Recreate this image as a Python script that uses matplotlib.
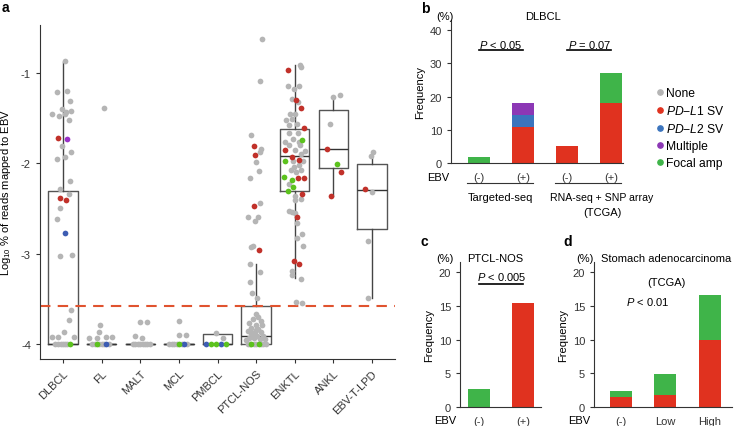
import numpy as np
import matplotlib
matplotlib.use('Agg')
import matplotlib.pyplot as plt
from matplotlib.lines import Line2D

plt.rcParams['font.family'] = ['Liberation Sans', 'DejaVu Sans']
plt.rcParams['mathtext.fontset'] = 'custom'
plt.rcParams['mathtext.rm'] = 'Liberation Sans'
plt.rcParams['mathtext.it'] = 'Liberation Sans:italic'
plt.rcParams['mathtext.bf'] = 'Liberation Sans:bold'
plt.rcParams['axes.edgecolor'] = '#333333'
plt.rcParams['xtick.color'] = '#333333'
plt.rcParams['ytick.color'] = '#333333'

W, H = 737, 427

# ---------------- panel a data ----------------
categories = ['DLBCL', 'FL', 'MALT', 'MCL', 'PMBCL', 'PTCL-NOS', 'ENKTL', 'ANKL', 'EBV-T-LPD']
box_q1 = [-4, -4, -4, -4, -4, -4, -2.305, -2.05, -2.725]
box_med = [-4, -4, -4, -4, -4, -3.916, -1.92, -1.84, -2.30]
box_q3 = [-2.31, -4, -4, -4, -3.89, -3.585, -1.62, -1.41, -2.01]
box_lo = [-4, -4, -4, -4, -4, -4, -3.27, -2.36, -3.49]
box_hi = [-0.88, -4, -4, -4, -3.89, -3.12, -0.91, -1.27, -1.90]
threshold = -3.585

# (jitter offset, log10 value, status) ; n=None r=PD-L1 SV b=PD-L2 SV p=Multiple g=Focal amp
dlbcl_pts = [(0.06, -0.87, 'n'), (-0.17, -1.21, 'n'), (0.10, -1.20, 'n'), (0.18, -1.31, 'n'),
             (-0.03, -1.40, 'n'), (0.07, -1.43, 'n'), (0.21, -1.42, 'n'), (-0.28, -1.45, 'n'),
             (-0.10, -1.48, 'n'), (0.05, -1.45, 'n'), (0.16, -1.52, 'n'), (-0.13, -1.72, 'r'),
             (0.09, -1.73, 'p'), (-0.04, -1.81, 'n'), (0.20, -1.87, 'n'), (0.05, -1.93, 'n'),
             (-0.16, -1.95, 'n'), (0.18, -2.20, 'n'), (-0.08, -2.28, 'n'), (0.16, -2.34, 'n'),
             (-0.07, -2.38, 'r'), (0.08, -2.41, 'r'), (-0.09, -2.49, 'n'), (-0.15, -2.62, 'n'),
             (0.05, -2.77, 'b'), (-0.07, -3.03, 'n'), (0.24, -3.02, 'n'), (0.20, -3.62, 'n'),
             (0.16, -3.73, 'n'), (0.02, -3.87, 'n'), (-0.28, -3.92, 'n'), (-0.13, -3.92, 'n'),
             (0.28, -3.92, 'n'), (-0.20, -4, 'n'), (-0.13, -4, 'n'), (-0.06, -4, 'n'),
             (0.0, -4, 'n'), (0.06, -4, 'n'), (0.11, -4, 'n'), (0.18, -4, 'g')]
fl_pts = [(0.06, -1.39, 'n'), (-0.05, -3.79, 'n'), (-0.06, -3.87, 'n'), (-0.33, -3.93, 'n'),
          (-0.13, -3.93, 'n'), (0.12, -3.92, 'n'), (0.26, -3.92, 'n'), (-0.25, -4, 'n'),
          (-0.18, -4, 'n'), (-0.07, -4, 'n'), (0.0, -4, 'n'), (0.05, -4, 'n'), (0.20, -4, 'n'),
          (-0.13, -4, 'g'), (0.12, -4, 'b')]
malt_pts = [(0.0, -3.76, 'n'), (0.17, -3.76, 'n'), (-0.15, -3.91, 'n'), (0.05, -3.93, 'n'),
            (-0.20, -4, 'n'), (-0.13, -4, 'n'), (-0.06, -4, 'n'), (0.0, -4, 'n'), (0.06, -4, 'n'),
            (0.12, -4, 'n'), (0.18, -4, 'n'), (0.24, -4, 'n')]
mcl_pts = [(0.0, -3.75, 'n'), (-0.01, -3.90, 'n'), (0.18, -3.90, 'n'), (-0.26, -4, 'n'),
           (-0.19, -4, 'n'), (-0.12, -4, 'n'), (-0.06, -4, 'n'), (0.07, -4, 'n'), (0.22, -4, 'n'),
           (0.0, -4, 'g'), (0.14, -4, 'b')]
pmbcl_pts = [(-0.05, -3.88, 'n'), (0.15, -3.93, 'n'), (-0.31, -4, 'b'), (-0.17, -4, 'g'),
             (-0.04, -4, 'g'), (0.10, -4, 'b'), (0.23, -4, 'g')]
ptcl_pts = [(0.15, -0.63, 'n'), (0.10, -1.09, 'n'), (-0.12, -1.69, 'n'), (-0.05, -1.81, 'r'),
            (0.12, -1.84, 'n'), (-0.02, -1.91, 'r'), (0.09, -1.88, 'n'), (0.0, -1.99, 'n'),
            (0.08, -2.09, 'n'), (-0.16, -2.16, 'n'), (-0.05, -2.47, 'r'), (0.10, -2.44, 'n'),
            (-0.20, -2.59, 'n'), (0.04, -2.60, 'n'), (-0.03, -2.64, 'n'), (-0.14, -2.93, 'n'),
            (-0.08, -2.92, 'n'), (0.08, -2.96, 'r'), (-0.17, -3.12, 'n'), (0.10, -3.20, 'n'),
            (-0.15, -3.31, 'n'), (-0.10, -3.44, 'n'), (0.03, -3.49, 'n'), (0.01, -3.67, 'n'),
            (0.06, -3.70, 'n'), (-0.07, -3.72, 'n'), (0.12, -3.74, 'n'), (-0.18, -3.77, 'n'),
            (-0.01, -3.79, 'n'), (0.16, -3.79, 'n'), (-0.14, -3.82, 'n'), (0.06, -3.83, 'n'),
            (-0.22, -3.86, 'n'), (-0.03, -3.87, 'n'), (0.14, -3.87, 'n'), (-0.10, -3.90, 'n'),
            (0.03, -3.91, 'n'), (0.19, -3.91, 'n'), (-0.18, -3.93, 'n'), (-0.05, -3.93, 'n'),
            (0.09, -3.95, 'n'), (-0.25, -3.96, 'n'), (0.22, -3.94, 'n'), (0.0, -3.85, 'n'),
            (-0.12, -3.88, 'n'), (-0.22, -4, 'n'), (-0.16, -4, 'n'), (-0.05, -4, 'n'),
            (0.0, -4, 'n'), (0.12, -4, 'n'), (0.19, -4, 'n'), (0.25, -4, 'n'),
            (-0.12, -4, 'g'), (0.07, -4, 'g')]
enktl_pts = [(-0.17, -0.97, 'r'), (0.03, -1.30, 'r'), (0.17, -1.39, 'r'), (0.23, -1.61, 'r'),
             (-0.24, -1.85, 'r'), (-0.08, -1.93, 'r'), (0.10, -1.96, 'r'), (0.08, -2.16, 'r'),
             (0.25, -2.16, 'r'), (0.20, -2.34, 'r'), (0.06, -2.59, 'r'), (-0.02, -3.08, 'r'),
             (0.10, -3.11, 'r'), (0.20, -1.74, 'g'), (-0.24, -1.98, 'g'), (-0.27, -2.15, 'g'),
             (-0.08, -2.19, 'g'), (-0.04, -2.26, 'g'), (-0.18, -2.31, 'g'),
             (0.13, -0.91, 'n'), (0.17, -0.94, 'n'), (-0.18, -1.14, 'n'), (0.10, -1.15, 'n'),
             (-0.02, -1.18, 'n'), (-0.07, -1.29, 'n'), (0.08, -1.32, 'n'), (-0.12, -1.45, 'n'),
             (0.02, -1.45, 'n'), (-0.22, -1.52, 'n'), (-0.06, -1.51, 'n'), (-0.14, -1.58, 'n'),
             (0.05, -1.56, 'n'), (-0.15, -1.67, 'n'), (0.08, -1.66, 'n'), (-0.26, -1.77, 'n'),
             (-0.04, -1.73, 'n'), (0.10, -1.77, 'n'), (-0.16, -1.80, 'n'), (0.13, -1.80, 'n'),
             (0.0, -1.85, 'n'), (0.26, -1.86, 'n'), (0.17, -1.90, 'n'), (-0.05, -1.97, 'n'),
             (0.22, -1.98, 'n'), (-0.02, -2.04, 'n'), (-0.10, -2.08, 'n'), (0.04, -2.10, 'n'),
             (0.16, -2.07, 'n'), (0.12, -2.02, 'n'), (-0.15, -2.23, 'n'), (0.02, -2.36, 'n'),
             (0.17, -2.39, 'n'), (0.0, -2.41, 'n'), (-0.16, -2.53, 'n'), (-0.07, -2.54, 'n'),
             (0.02, -2.55, 'n'), (0.06, -2.66, 'n'), (0.20, -2.78, 'n'), (0.06, -2.83, 'n'),
             (0.21, -2.92, 'n'), (-0.08, -3.19, 'n'), (-0.06, -3.24, 'n'), (0.16, -3.28, 'n'),
             (0.04, -3.53, 'n'), (0.19, -3.55, 'n')]
ankl_pts = [(0.0, -1.27, 'n'), (0.18, -1.24, 'n'), (-0.08, -1.56, 'n'), (-0.17, -1.84, 'r'),
            (0.10, -2.01, 'g'), (0.20, -2.10, 'r'), (-0.06, -2.36, 'r')]
ebvt_pts = [(-0.03, -1.92, 'n'), (0.02, -1.88, 'n'), (-0.17, -2.28, 'r'), (0.0, -2.32, 'n'),
            (-0.09, -2.86, 'n'), (-0.09, -3.49, 'n')]
all_pts = [dlbcl_pts, fl_pts, malt_pts, mcl_pts, pmbcl_pts, ptcl_pts, enktl_pts, ankl_pts, ebvt_pts]

point_colors = {'n': '#b5b5b5', 'r': '#c1312a', 'b': '#3d5db3', 'p': '#9a32c8', 'g': '#5cc21e'}
bar_red, bar_blue, bar_purple, bar_green = '#e0321f', '#3b74bd', '#8c37b5', '#3fb449'
legend_labels = ['None', r'$\mathit{PD}$−$\mathit{L1}$ SV', r'$\mathit{PD}$−$\mathit{L2}$ SV',
                 'Multiple', 'Focal amp']
legend_colors = ['#b5b5b5', bar_red, bar_blue, bar_purple, bar_green]

# ---------------- panel b data ----------------
b_ebv = ['(-)', '(+)', '(-)', '(+)']
b_pdl1 = [0, 10.9, 5.3, 18.0]
b_pdl2 = [0, 3.6, 0, 0]
b_multi = [0, 3.6, 0, 0]
b_focal = [2.0, 0, 0, 9.0]

# ---------------- panel c data ----------------
c_ebv = ['(-)', '(+)']
c_pdl1 = [0, 15.43]
c_focal = [2.63, 0]

# ---------------- panel d data ----------------
d_ebv = ['(-)', 'Low', 'High']
d_pdl1 = [1.40, 1.79, 9.93]
d_focal = [0.89, 3.08, 6.65]


def rect(l, t, r, b):
    return [l / W, 1 - b / H, (r - l) / W, (b - t) / H]


def fx(x):
    return x / W


def fy(y):
    return 1 - y / H


fs = 8
fig = plt.figure(figsize=(W / 100, H / 100), dpi=100)

# ================= panel a =================
ax = fig.add_axes(rect(40, 26, 395, 360))
stats = []
for i in range(len(categories)):
    stats.append(dict(q1=box_q1[i], med=box_med[i], q3=box_q3[i],
                      whislo=box_lo[i], whishi=box_hi[i], fliers=[]))
ax.bxp(stats, positions=np.arange(1, 10), widths=0.76, showcaps=False, showfliers=False,
       boxprops=dict(color='#555555', lw=1.0),
       medianprops=dict(color='#333333', lw=1.0),
       whiskerprops=dict(color='#444444', lw=1.0))
for i, pts in enumerate(all_pts):
    for code in ['n', 'r', 'b', 'p', 'g']:
        sel = [(o, v) for o, v, c in pts if c == code]
        if sel:
            ox, vy = zip(*sel)
            ax.scatter(np.array(ox) + i + 1, vy, s=17, color=point_colors[code], lw=0, zorder=3)
ax.axhline(threshold, color='#e0532f', lw=1.5, ls=(0, (5, 3.5)), zorder=2)
ax.set_xlim(0.4, 9.6)
ax.set_ylim(-4.166, -0.47)
ax.set_yticks([-1, -2, -3, -4])
ax.set_yticklabels(['-1', '-2', '-3', '-4'])
ax.set_xticks(np.arange(1, 10))
ax.set_xticklabels(categories, rotation=45, ha='right', rotation_mode='anchor')
ax.tick_params(labelsize=fs, length=3, width=0.8)
for s in ['top', 'right']:
    ax.spines[s].set_visible(False)
ax.set_ylabel(r'Log$_{10}$ % of reads mapped to EBV', fontsize=fs, labelpad=6)
fig.text(fx(2), fy(12), 'a', fontsize=10, fontweight='bold')

# ================= panel b =================
axb = fig.add_axes(rect(451, 20.7, 622.7, 164.3))
xb = np.arange(4)
bottom = np.zeros(4)
for vals, col in [(b_pdl1, bar_red), (b_pdl2, bar_blue), (b_multi, bar_purple), (b_focal, bar_green)]:
    axb.bar(xb, vals, 0.5, bottom=bottom, color=col, lw=0)
    bottom += np.array(vals)
axb.set_xlim(-0.63, 3.26)
axb.set_ylim(0, 43)
axb.set_yticks([0, 10, 20, 30, 40])
axb.set_xticks(xb)
axb.set_xticklabels(b_ebv)
axb.tick_params(axis='x', length=0, pad=6.5, labelsize=fs)
axb.tick_params(axis='y', length=3, labelsize=fs, width=0.8)
for s in ['top', 'right']:
    axb.spines[s].set_visible(False)
axb.set_ylabel('Frequency', fontsize=fs, labelpad=3)
tr = axb.get_xaxis_transform()
axb.plot([0, 1], [33.9, 33.9], color='black', lw=1.2)
axb.plot([2, 3], [33.9, 33.9], color='black', lw=1.2)
axb.text(0.5, 34.5, r'$\mathit{P}$ < 0.05', ha='center', va='baseline', fontsize=fs)
axb.text(2.5, 34.5, r'$\mathit{P}$ = 0.07', ha='center', va='baseline', fontsize=fs)
axb.plot([-0.27, 1.23], [-0.139, -0.139], color='#333333', lw=0.8, transform=tr, clip_on=False)
axb.plot([1.73, 3.23], [-0.139, -0.139], color='#333333', lw=0.8, transform=tr, clip_on=False)
axb.text(0.5, -0.235, 'Targeted-seq', ha='center', va='center', fontsize=fs, transform=tr)
fig.text(fx(602), fy(197.7), 'RNA-seq + SNP array', ha='center', va='center', fontsize=7.6)
fig.text(fx(602), fy(213), '(TCGA)', ha='center', va='center', fontsize=fs)
fig.text(fx(449), fy(178), 'EBV', ha='right', va='center', fontsize=fs)
fig.text(fx(445), fy(17), '(%)', ha='center', va='center', fontsize=fs)
fig.text(fx(543), fy(17), 'DLBCL', ha='center', va='center', fontsize=fs)
fig.text(fx(421), fy(13), 'b', fontsize=10, fontweight='bold')
handles = [Line2D([], [], marker='o', ls='', color=c, markersize=3.8) for c in legend_colors]
fig.legend(handles, legend_labels, loc='upper left', bbox_to_anchor=(fx(656), fy(88)),
           frameon=False, fontsize=8.7, handlelength=0.6, handletextpad=0.25,
           labelspacing=0.42, borderaxespad=0, borderpad=0)

# ================= panel c =================
axc = fig.add_axes(rect(460, 262.7, 541, 407.7))
xc = np.arange(2)
axc.bar(xc, c_pdl1, 0.5, color=bar_red, lw=0)
axc.bar(xc, c_focal, 0.5, bottom=c_pdl1, color=bar_green, lw=0)
axc.set_xlim(-0.435, 1.4)
axc.set_ylim(0, 21.6)
axc.set_yticks([0, 5, 10, 15, 20])
axc.set_xticks(xc)
axc.set_xticklabels(c_ebv)
axc.tick_params(axis='x', length=0, pad=6.5, labelsize=fs)
axc.tick_params(axis='y', length=3, labelsize=fs, width=0.8)
for s in ['top', 'right']:
    axc.spines[s].set_visible(False)
axc.set_ylabel('Frequency', fontsize=fs, labelpad=3)
axc.plot([0, 1], [18.26, 18.26], color='black', lw=1.2)
axc.text(0.5, 18.9, r'$\mathit{P}$ < 0.005', ha='center', va='baseline', fontsize=fs)
fig.text(fx(456), fy(421), 'EBV', ha='right', va='center', fontsize=fs)
fig.text(fx(445), fy(259), '(%)', ha='center', va='center', fontsize=fs)
fig.text(fx(495), fy(259), 'PTCL-NOS', ha='center', va='center', fontsize=fs)
fig.text(fx(421), fy(246), 'c', fontsize=10, fontweight='bold')

# ================= panel d =================
axd = fig.add_axes(rect(594, 262.7, 732, 407.7))
xd = np.arange(3)
axd.bar(xd, d_pdl1, 0.5, color=bar_red, lw=0)
axd.bar(xd, d_focal, 0.5, bottom=d_pdl1, color=bar_green, lw=0)
axd.set_xlim(-0.6, 2.5)
axd.set_ylim(0, 21.6)
axd.set_yticks([0, 5, 10, 15, 20])
axd.set_xticks(xd)
axd.set_xticklabels(d_ebv)
axd.tick_params(axis='x', length=0, pad=6.5, labelsize=fs)
axd.tick_params(axis='y', length=3, labelsize=fs, width=0.8)
for s in ['top', 'right']:
    axd.spines[s].set_visible(False)
axd.set_ylabel('Frequency', fontsize=fs, labelpad=3)
axd.text(0.6, 15.77, r'$\mathit{P}$ < 0.01', ha='center', va='center', fontsize=fs)
fig.text(fx(590), fy(421), 'EBV', ha='right', va='center', fontsize=fs)
fig.text(fx(585), fy(259), '(%)', ha='center', va='center', fontsize=fs)
fig.text(fx(666), fy(259), 'Stomach adenocarcinoma', ha='center', va='center', fontsize=fs)
fig.text(fx(666), fy(282.7), '(TCGA)', ha='center', va='center', fontsize=fs)
fig.text(fx(563), fy(246), 'd', fontsize=10, fontweight='bold')

fig.savefig('out.png', dpi=100)
